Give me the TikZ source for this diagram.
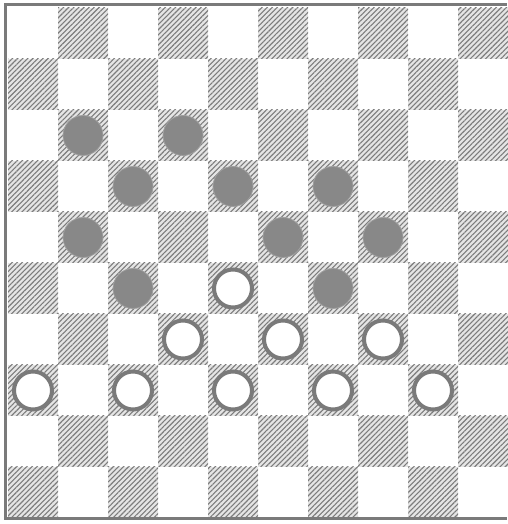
\documentclass[tikz,border=0pt]{standalone}
\usepackage{tikz}
\usetikzlibrary{patterns.meta,shapes.geometric}
\definecolor{bdgrey}{HTML}{7A7A7A}
\definecolor{hatchgrey}{HTML}{7C7C7C}
\definecolor{mangrey}{HTML}{888888}
\tikzset{
  sq/.style    ={fill=black!10, postaction={pattern={Lines[angle=45,distance=3.6pt,line width=1.1pt]},
                 pattern color=hatchgrey}},
  edge/.style  ={draw=bdgrey, line width=3pt},
  blk/.style   ={circle, fill=mangrey, draw=mangrey!80, thick, minimum size=40pt, inner sep=0pt},
  wht/.style   ={circle, fill=white, draw=bdgrey, line width=4pt, minimum size=38pt, inner sep=0pt}
}

\begin{document}
\begin{tikzpicture}[x=1pt,y=1pt]
  \useasboundingbox (0,0) rectangle (507,524);
  % dark squares
  \foreach \r in {0,...,9}
    \foreach \c in {0,...,9}{
      \pgfmathtruncatemacro{\odd}{mod(\c+\r,2)}
      \ifnum\odd=1
        \path[sq] ({8+50*\c},{465-51*\r}) rectangle ++(50,51);
      \fi
    }
  % board edges
  \coordinate (tl) at (5,519);
  \coordinate (tr) at (507,519);
  \coordinate (bl) at (5,5);
  \coordinate (br) at (507,5);
  \draw[edge] (tr) -- (tl) -- (bl) -- (br);
  % black men
  \foreach \c/\r in {1/2,3/2,2/3,4/3,6/3,1/4,5/4,7/4,2/5,6/5}
    \node[blk] (b-\c-\r) at ({33+50*\c},{490.5-51*\r}) {};
  % white men
  \foreach \c/\r in {4/5,3/6,5/6,7/6,0/7,2/7,4/7,6/7,8/7}
    \node[wht] (w-\c-\r) at ({33+50*\c},{490.5-51*\r}) {};
\end{tikzpicture}
\end{document}
